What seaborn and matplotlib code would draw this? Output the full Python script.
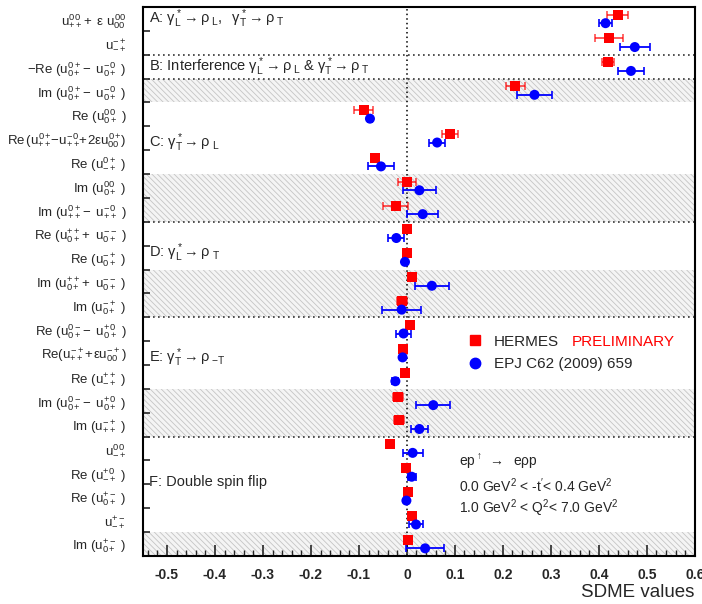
import numpy as np
import pandas as pd
import matplotlib
matplotlib.use('Agg')
import matplotlib.pyplot as plt
import seaborn as sns
from matplotlib.lines import Line2D

# SDME labels from top to bottom
labels = [
    r'$u^{00}_{++}\!+\ \varepsilon\ u^{00}_{00}$',
    r'$u^{-+}_{-+}$',
    r'$-\mathrm{Re}\ (u^{0+}_{0+}\!-\ u^{-0}_{0+}\ )$',
    r'$\mathrm{Im}\ (u^{0+}_{0+}\!-\ u^{-0}_{0+}\ )$',
    r'$\mathrm{Re}\ (u^{00}_{0+}\ )$',
    r'$\mathrm{Re}\,(u^{0+}_{++}\!\!-\!u^{-0}_{++}\!\!+\!2\varepsilon u^{0+}_{00}\!)$',
    r'$\mathrm{Re}\ (u^{0+}_{-+}\ )$',
    r'$\mathrm{Im}\ (u^{00}_{0+}\ )$',
    r'$\mathrm{Im}\ (u^{0+}_{++}\!-\ u^{-0}_{++}\ )$',
    r'$\mathrm{Re}\ (u^{++}_{0+}\!+\ u^{--}_{0+}\ )$',
    r'$\mathrm{Re}\ (u^{-+}_{0+}\ )$',
    r'$\mathrm{Im}\ (u^{++}_{0+}\!+\ u^{--}_{0+}\ )$',
    r'$\mathrm{Im}\ (u^{-+}_{0+}\ )$',
    r'$\mathrm{Re}\ (u^{0-}_{0+}\!-\ u^{+0}_{0+}\ )$',
    r'$\mathrm{Re}(u^{-+}_{++}\!+\!\varepsilon u^{-+}_{00})$',
    r'$\mathrm{Re}\ (u^{++}_{-+}\ )$',
    r'$\mathrm{Im}\ (u^{0-}_{0+}\!-\ u^{+0}_{0+}\ )$',
    r'$\mathrm{Im}\ (u^{-+}_{++}\ )$',
    r'$u^{00}_{-+}$',
    r'$\mathrm{Re}\ (u^{+0}_{-+}\ )$',
    r'$\mathrm{Re}\ (u^{+-}_{0+}\ )$',
    r'$u^{+-}_{-+}$',
    r'$\mathrm{Im}\ (u^{+-}_{0+}\ )$',
]

hermes_val = [0.439, 0.421, 0.419, 0.226, -0.090, 0.090, -0.066, 0.000, -0.023,
              0.001, 0.001, 0.010, -0.010, 0.007, -0.009, -0.004, -0.018, -0.016,
              -0.035, -0.002, 0.003, 0.010, 0.003]
hermes_err = [0.021, 0.029, 0.013, 0.020, 0.020, 0.016, 0.008, 0.019, 0.026,
              0.006, 0.004, 0.008, 0.010, 0.005, 0.005, 0.005, 0.010, 0.010,
              0.008, 0.005, 0.005, 0.005, 0.005]
epj_val = [0.414, 0.475, 0.467, 0.266, -0.077, 0.063, -0.054, 0.026, 0.033,
           -0.022, -0.004, 0.052, -0.011, -0.007, -0.009, -0.024, 0.055, 0.026,
           0.012, 0.010, -0.001, 0.019, 0.038]
epj_err = [0.013, 0.031, 0.027, 0.037, 0.005, 0.017, 0.028, 0.035, 0.032,
           0.017, 0.004, 0.035, 0.040, 0.015, 0.004, 0.006, 0.035, 0.017,
           0.021, 0.008, 0.003, 0.014, 0.039]

hatched_rows = [3, 7, 8, 11, 12, 16, 17, 22]
separators = [1.5, 2.5, 8.5, 12.5, 17.5]
sections = [
    (0.0, r'A: $\gamma^*_\mathrm{L}\!\rightarrow \rho_{\ \mathrm{L}},\ \ \gamma^*_\mathrm{T}\!\rightarrow \rho_{\ \mathrm{T}}$'),
    (2.0, r'B: Interference $\gamma^*_\mathrm{L}\!\rightarrow \rho_{\ \mathrm{L}}$ & $\gamma^*_\mathrm{T}\!\rightarrow \rho_{\ \mathrm{T}}$'),
    (5.2, r'C: $\gamma^*_\mathrm{T}\!\rightarrow \rho_{\ \mathrm{L}}$'),
    (9.8, r'D: $\gamma^*_\mathrm{L}\!\rightarrow \rho_{\ \mathrm{T}}$'),
    (14.2, r'E: $\gamma^*_\mathrm{T}\!\rightarrow \rho_{\ \mathrm{-T}}$'),
    (19.4, 'F: Double spin flip'),
]
xticks = [-0.5, -0.4, -0.3, -0.2, -0.1, 0, 0.1, 0.2, 0.3, 0.4, 0.5, 0.6]
xticklabels = ['-0.5', '-0.4', '-0.3', '-0.2', '-0.1', '0', '0.1', '0.2', '0.3', '0.4', '0.5', '0.6']

rows = np.arange(len(labels))
df = pd.concat([
    pd.DataFrame({'row': rows, 'ypos': rows - 0.18, 'value': hermes_val,
                  'err': hermes_err, 'source': 'HERMES'}),
    pd.DataFrame({'row': rows, 'ypos': rows + 0.18, 'value': epj_val,
                  'err': epj_err, 'source': 'EPJ'}),
])

sns.set_style('ticks')
plt.rcParams['font.family'] = ['Liberation Sans', 'DejaVu Sans']
plt.rcParams['mathtext.fontset'] = 'custom'
plt.rcParams['mathtext.rm'] = 'Liberation Sans'
plt.rcParams['mathtext.it'] = 'Liberation Sans'
plt.rcParams['mathtext.bf'] = 'Liberation Sans:bold'
plt.rcParams['hatch.linewidth'] = 0.6

fig = plt.figure(figsize=(7.02, 6.04), dpi=100)
ax = fig.add_axes([0.2037, 0.0795, 0.786, 0.909])

for r in hatched_rows:
    ax.axhspan(r - 0.5, r + 0.5, facecolor='#f4f4f4', edgecolor='#c4c4c4',
               hatch='\\\\\\\\\\\\', linewidth=0, zorder=0)
for s in separators:
    ax.axhline(s, color='#333333', linestyle=(0, (1, 2)), linewidth=1.2, zorder=1)
ax.axvline(0, color='black', linestyle=(0, (1, 2)), linewidth=1.1, zorder=1)

colors = {'HERMES': '#ff0000', 'EPJ': '#0000ff'}
for src, alpha in [('HERMES', 0.7), ('EPJ', 1.0)]:
    d = df[df.source == src]
    ax.errorbar(d.value, d.ypos, xerr=d.err, fmt='none', ecolor=colors[src],
                elinewidth=1.3, capsize=3, capthick=1.2, alpha=alpha, zorder=2)

sns.scatterplot(data=df, x='value', y='ypos', hue='source', style='source',
                palette=colors, markers={'HERMES': 's', 'EPJ': 'o'},
                s=52, linewidth=0, legend=False, ax=ax, zorder=3)

ax.set_xlim(-0.55, 0.60)
ax.set_ylim(len(labels) - 0.5, -0.5)
ax.set_xticks(xticks)
ax.set_xticklabels(xticklabels, fontsize=10, fontweight='bold')
ax.set_xticks(np.arange(-0.54, 0.6, 0.02), minor=True)
ax.set_yticks(rows)
ax.set_yticklabels(labels, fontsize=9.5)
ax.set_yticks(np.arange(0.5, len(labels) - 0.5, 1), minor=True)
ax.tick_params(axis='x', which='major', direction='in', length=8, width=1.2, pad=9)
ax.tick_params(axis='x', which='minor', direction='in', length=4, width=1.0)
ax.tick_params(axis='y', which='major', length=0, pad=12)
ax.tick_params(axis='y', which='minor', direction='in', length=5, width=1.2)
for sp in ax.spines.values():
    sp.set_visible(True)
    sp.set_linewidth(1.5)
    sp.set_color('black')

ax.set_xlabel('SDME values', fontsize=13.5, loc='right', labelpad=1)
ax.set_ylabel('')

for y, txt in sections:
    ax.text(-0.537, y, txt, fontsize=10.5, va='center', ha='left')

handles = [
    Line2D([], [], linestyle='none', marker='s', color='#ff0000', markersize=7.5),
    Line2D([], [], linestyle='none', marker='o', color='#0000ff', markersize=7.5),
]
ax.legend(handles, ['HERMES', 'EPJ C62 (2009) 659'], loc='center left',
          bbox_to_anchor=(0.587, 0.37), frameon=False, fontsize=11,
          borderpad=0, borderaxespad=0, handlelength=1.0,
          handletextpad=0.75, labelspacing=0.55)
ax.text(0.343, 13.53, 'PRELIMINARY', color='#ff0000', fontsize=11, va='center')

ax.text(0.109, 18.55, r'ep$^{\uparrow}\ \rightarrow\ $ e$\rho$p', fontsize=10, va='center')
ax.text(0.109, 19.55, r'0.0 GeV$^2$ < -t$^\prime$< 0.4 GeV$^2$', fontsize=10, va='center')
ax.text(0.109, 20.5, r'1.0 GeV$^2$ < Q$^2$< 7.0 GeV$^2$', fontsize=10, va='center')

fig.savefig('out.png', dpi=100)
